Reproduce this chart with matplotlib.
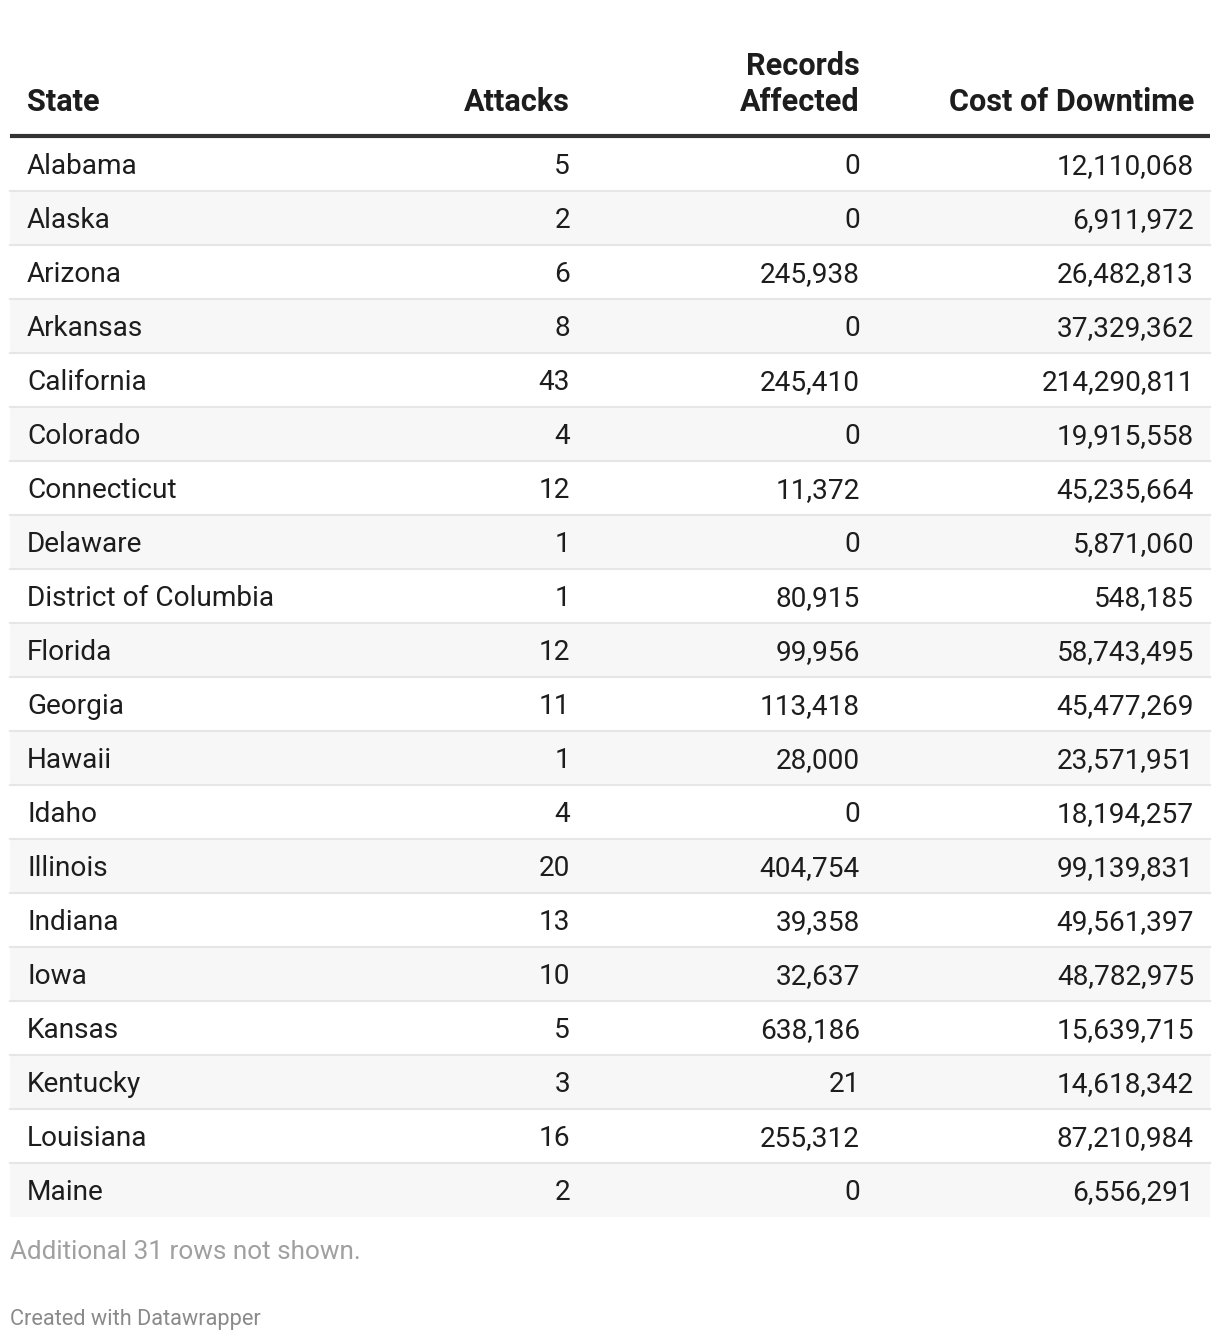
import matplotlib
matplotlib.use("Agg")
import matplotlib.pyplot as plt
from matplotlib.patches import Rectangle

# ── Data ─────────────────────────────────────────────────────────────────────
states = ["Alabama", "Alaska", "Arizona", "Arkansas", "California", "Colorado",
          "Connecticut", "Delaware", "District of Columbia", "Florida", "Georgia",
          "Hawaii", "Idaho", "Illinois", "Indiana", "Iowa", "Kansas", "Kentucky",
          "Louisiana", "Maine"]
attacks = [5, 2, 6, 8, 43, 4, 12, 1, 1, 12, 11, 1, 4, 20, 13, 10, 5, 3, 16, 2]
records = [0, 0, 245938, 0, 245410, 0, 11372, 0, 80915, 99956, 113418, 28000,
           0, 404754, 39358, 32637, 638186, 21, 255312, 0]
cost = [12110068, 6911972, 26482813, 37329362, 214290811, 19915558, 45235664,
        5871060, 548185, 58743495, 45477269, 23571951, 18194257, 99139831,
        49561397, 48782975, 15639715, 14618342, 87210984, 6556291]

headers = ["State", "Attacks", "Records\nAffected", "Cost of Downtime"]
footnote = "Additional 31 rows not shown."
credit = "Created with Datawrapper"

# ── Layout (pixel coordinates) ───────────────────────────────────────────────
W, H = 1220, 1342
LEFT, RIGHT = 10, 1210
COL_X = [27, 569, 859, 1193]
COL_HA = ["left", "right", "right", "right"]
TOP_ROW = 137
ROW_H = 54
FONT = "Roboto"

fig = plt.figure(figsize=(W / 100, H / 100), dpi=100)
ax = fig.add_axes([0, 0, 1, 1])
ax.set_xlim(0, W)
ax.set_ylim(H, 0)
ax.axis("off")

# header
for x, ha, h in zip(COL_X, COL_HA, headers):
    ax.text(x + (1 if ha == "right" else 0), 111, h, ha=ha, va="baseline",
            fontsize=22.1, fontweight="bold", family=FONT, color="#1d1d1d",
            linespacing=1.24)
ax.plot([LEFT, RIGHT], [136, 136], color="#333333", lw=3, solid_capstyle="butt")

# rows
for i, (s, a, r, c) in enumerate(zip(states, attacks, records, cost)):
    y0 = TOP_ROW + i * ROW_H
    if i % 2 == 1:
        ax.add_patch(Rectangle((LEFT, y0), RIGHT - LEFT, ROW_H,
                               facecolor="#f7f7f7", edgecolor="none", zorder=0))
    if i < len(states) - 1:
        ax.plot([LEFT, RIGHT], [y0 + ROW_H, y0 + ROW_H], color="#e6e6e6",
                lw=1.5, zorder=1)
    vals = [s, f"{a:,}", f"{r:,}", f"{c:,}"]
    yc = y0 + ROW_H / 2
    for x, ha, v in zip(COL_X, COL_HA, vals):
        ax.text(x + (1 if ha == "right" else 0), yc + 3, v, ha=ha, va="center",
                fontsize=20.2, family=FONT, color="#1d1d1d")

# footer
ax.text(LEFT, 1252, footnote, ha="left", va="center", fontsize=18.8,
        family=FONT, color="#a0a0a0")
ax.text(LEFT, 1319, credit, ha="left", va="center", fontsize=15.7,
        family=FONT, color="#8a8a8a")

fig.savefig("out.png", dpi=100, facecolor="white")
